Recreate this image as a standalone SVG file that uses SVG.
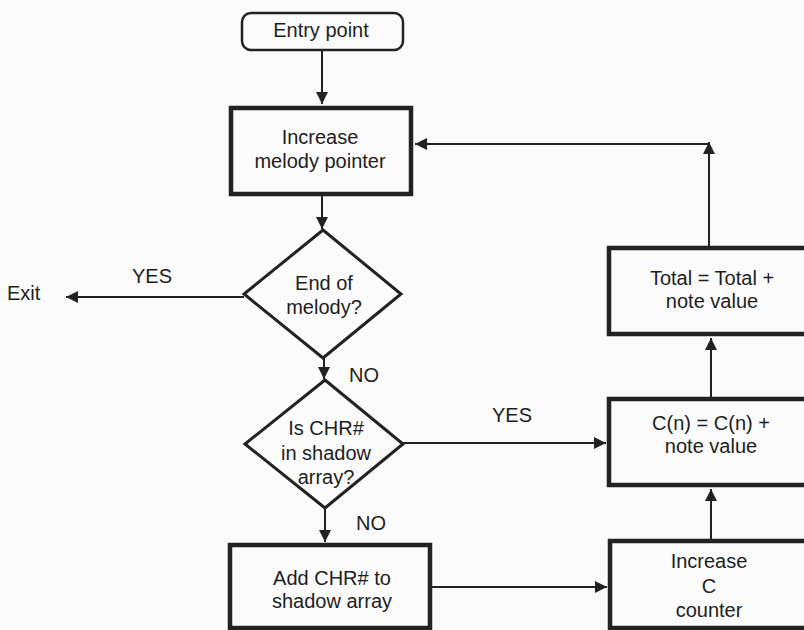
<svg xmlns="http://www.w3.org/2000/svg" width="804" height="630" viewBox="0 0 804 630">
<style>
text{font-family:"Liberation Sans",Arial,sans-serif;font-size:20px;fill:#1e1e1e;text-anchor:middle}
.box{fill:none;stroke:#222;stroke-width:4.5}
.dia{fill:none;stroke:#222;stroke-width:3}
.conn path{fill:none;stroke:#222;stroke-width:2;marker-end:url(#ah)}
.lbl{text-anchor:start}
</style>
<defs>
<marker id="ah" markerUnits="userSpaceOnUse" markerWidth="14" markerHeight="14" refX="12" refY="6" orient="auto">
<path d="M0,0 L12,6 L0,12 z" fill="#222"/>
</marker>
</defs>
<rect width="804" height="630" fill="#fbfbfb"/>
<g class="conn" id="connectors">
<path d="M322,50 V104"/>
<path d="M322,196 V229"/>
<path d="M244,297 H66"/>
<path d="M324,358 V379"/>
<path d="M403,443 H606"/>
<path d="M325,508 V542"/>
<path d="M432,587 H607"/>
<path d="M711,539 V489"/>
<path d="M711,397 V338"/>
<path d="M709,246 V142"/>
<path d="M709,144 H415"/>
</g>
<g id="labels">
<text x="152" y="283">YES</text>
<text class="lbl" x="7" y="300">Exit</text>
<text x="364" y="382">NO</text>
<text x="512" y="422">YES</text>
<text x="371" y="530">NO</text>
</g>
<g id="entry">
<rect x="242" y="13" width="161" height="37" rx="9" fill="none" stroke="#222" stroke-width="2.5"/>
<text x="321" y="37">Entry point</text>
</g>
<g id="increase-pointer">
<rect class="box" x="231" y="108" width="180" height="86"/>
<text x="320" y="144">Increase</text>
<text x="320" y="168">melody pointer</text>
</g>
<g id="end-of-melody">
<polygon class="dia" points="323,230 401,294 323,358 244,294"/>
<text x="324" y="290">End of</text>
<text x="324" y="314">melody?</text>
</g>
<g id="is-chr">
<polygon class="dia" points="325,380 403,444 325,508 245,444"/>
<text x="326" y="435">Is CHR#</text>
<text x="326" y="460">in shadow</text>
<text x="326" y="484">array?</text>
</g>
<g id="add-chr">
<rect class="box" x="230" y="545" width="200" height="83"/>
<text x="332" y="585">Add CHR# to</text>
<text x="332" y="608">shadow array</text>
</g>
<g id="increase-c">
<rect class="box" x="610" y="541" width="202" height="87"/>
<text x="709" y="568">Increase</text>
<text x="709" y="593">C</text>
<text x="709" y="617">counter</text>
</g>
<g id="cn">
<rect class="box" x="609" y="399" width="203" height="86"/>
<text x="711" y="430">C(n) = C(n) +</text>
<text x="711" y="453">note value</text>
</g>
<g id="total">
<rect class="box" x="609" y="248" width="203" height="86"/>
<text x="712" y="285">Total = Total +</text>
<text x="712" y="308">note value</text>
</g>
</svg>
